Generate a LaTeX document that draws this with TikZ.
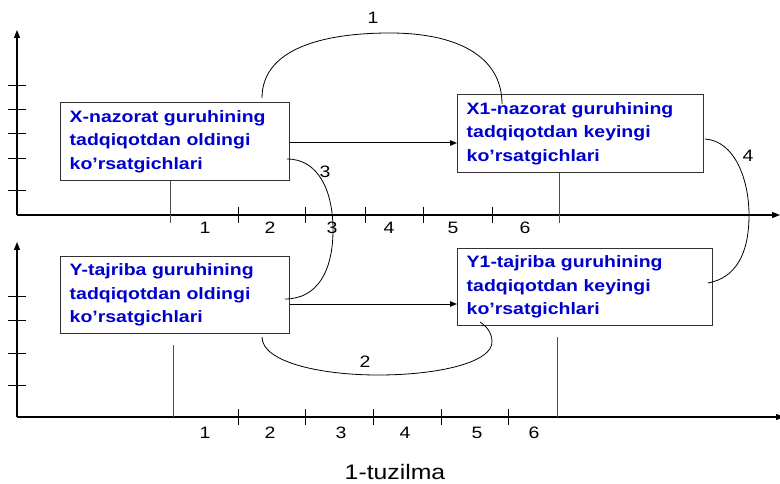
\documentclass[tikz,border=0pt]{standalone}
\usepackage{fontspec}
\setmainfont{Liberation Sans}[FakeStretch=1.18]
\usetikzlibrary{arrows.meta}
\definecolor{boxblue}{RGB}{0,0,204}
\definecolor{boxedge}{RGB}{50,50,50}
\begin{document}
\begin{tikzpicture}[x=1pt,y=-1pt,
  axis/.style={line width=1.3pt,-{Triangle[length=8pt,width=6pt]}},
  tick/.style={line width=1pt},
  guide/.style={line width=1pt,draw=black!70},
  infobox/.style={draw=boxedge,line width=1.4pt,fill=white,text=boxblue,
     font=\fontsize{16.5}{23.5}\selectfont\bfseries,align=left,
     inner xsep=9pt,inner ysep=0pt,anchor=north west},
  link/.style={line width=0.8pt},
  flow/.style={line width=1pt,-{Triangle[length=7pt,width=5.5pt]}},
  num/.style={font=\fontsize{16.5}{18}\selectfont,inner sep=0pt},
]
\useasboundingbox (0,0) rectangle (780,484);
% ---------- top panel axes ----------
\coordinate (ta0) at (17,215);
\coordinate (tay) at (17,30);
\coordinate (tax) at (780,215);
\draw[axis] (ta0) -- (tay);
\draw[axis] (ta0) -- (tax);
\foreach \y in {86,110,134,159,191} \draw[tick] (8,\y) -- (26,\y);
\foreach \x in {238,305,365,423,492} \draw[tick] (\x,207) -- (\x,223);
\foreach \x/\n in {205/1,270/2,332/3,389/4,453/5,525/6} \node[num] (tn\n) at (\x,228) {\n};
% ---------- bottom panel axes ----------
\coordinate (ba0) at (17,417);
\coordinate (bay) at (17,242);
\coordinate (bax) at (784,417);
\draw[axis] (ba0) -- (bay);
\draw[axis] (ba0) -- (bax);
\foreach \y in {296,320,353,385} \draw[tick] (8,\y) -- (26,\y);
\foreach \x in {238,305,373,441,508} \draw[tick] (\x,409) -- (\x,425);
\foreach \x/\n in {205/1,270/2,341/3,405/4,477/5,534/6} \node[num] (bn\n) at (\x,433) {\n};
% ---------- guide lines ----------
\coordinate (gx1) at (170,175); \coordinate (gx2) at (170,223);
\coordinate (gx3) at (559,167); \coordinate (gx4) at (559,223);
\coordinate (gy1) at (173,345); \coordinate (gy2) at (173,417);
\coordinate (gy3) at (557,337); \coordinate (gy4) at (557,417);
\draw[guide] (gx1) -- (gx2);
\draw[guide] (gx3) -- (gx4);
\draw[guide] (gy1) -- (gy2);
\draw[guide] (gy3) -- (gy4);
% ---------- boxes ----------
\node[infobox,text width=211pt,minimum height=78pt] (X) at (60,102)
  {X-nazorat guruhining\\tadqiqotdan oldingi\\ko’rsatgichlari};
\node[infobox,text width=228pt,minimum height=78pt] (X1) at (457,94)
  {X1-nazorat guruhining\\tadqiqotdan keyingi\\ko’rsatgichlari};
\node[infobox,text width=211pt,minimum height=77pt] (Y) at (60,256)
  {Y-tajriba guruhining\\tadqiqotdan oldingi\\ko’rsatgichlari};
\node[infobox,text width=237pt,minimum height=77pt] (Y1) at (457,248)
  {Y1-tajriba guruhining\\tadqiqotdan keyingi\\ko’rsatgichlari};
% ---------- straight arrows ----------
\draw[flow] (X.east |- 0,143) -- (X1.west |- 0,143);
\draw[flow] (Y.east |- 0,304) -- (Y1.west |- 0,304);
% ---------- curved links ----------
\coordinate (c1a) at (262,98); \coordinate (c1b) at (502,104);
\draw[link] (c1a) .. controls (262,50) and (320,33) .. (390,33)
   .. controls (455,33) and (502,55) .. (c1b);
\node[num] (l1) at (373,18) {1};
\coordinate (c3a) at (287,159); \coordinate (c3b) at (285,299);
\draw[link] (c3a) .. controls (318,159) and (333,190) .. (333,230)
   .. controls (333,270) and (318,299) .. (c3b);
\node[num] (l3) at (325,172) {3};
\coordinate (c4a) at (705,139); \coordinate (c4b) at (708,283);
\draw[link] (c4a) .. controls (735,141) and (749,180) .. (749,215)
   .. controls (749,255) and (735,278) .. (c4b);
\node[num] (l4) at (748,156) {4};
\coordinate (c2a) at (262,337); \coordinate (c2b) at (480,322);
\draw[link] (c2a) .. controls (262,362) and (320,375) .. (378,375)
   .. controls (440,375) and (492,362) .. (492,342)
   .. controls (492,332) and (486,326) .. (c2b);
\node[num] (l2) at (365,362) {2};
% ---------- caption ----------
\node[font=\fontsize{21}{23}\selectfont,inner sep=0pt] (cap) at (395,472) {1-tuzilma};
\end{tikzpicture}
\end{document}
